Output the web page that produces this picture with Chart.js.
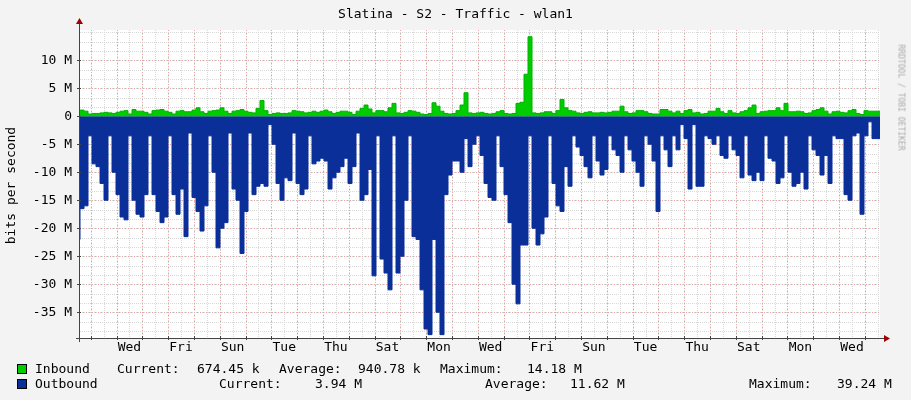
<!DOCTYPE html>
<html><head><meta charset="utf-8">
<script src="https://cdn.jsdelivr.net/npm/chart.js@4/dist/chart.umd.min.js"></script>
<style>
body{margin:0;background:#f3f3f3;font-family:"DejaVu Sans Mono",monospace;}
#wrap{position:relative;width:911px;height:400px;}
canvas{position:absolute;left:0;top:0;}
.t{position:absolute;font-size:13px;color:#000;white-space:pre;line-height:15px;}
.sq{position:absolute;width:8px;height:8px;border:1px solid #000;}
</style></head><body>
<div id="wrap">
<canvas id="c" width="911" height="400"></canvas>
<div class="t" style="left:0;width:911px;text-align:center;top:6px;">Slatina - S2 - Traffic - wlan1</div>
<div class="t" style="left:-48px;top:178px;transform:rotate(-90deg);">bits per second</div>
<div class="t" style="left:848px;top:90px;transform:rotate(90deg);font-size:8px;color:#aaa;">RRDTOOL / TOBI OETIKER</div>
<div class="sq" style="left:17px;top:364px;background:#00cc00"></div>
<div class="sq" style="left:17px;top:379px;background:#0a2f99"></div>
<div class="t" style="left:35px;top:361px">Inbound</div>
<div class="t" style="left:117px;top:361px">Current:</div>
<div class="t" style="left:197px;top:361px">674.45 k</div>
<div class="t" style="left:279px;top:361px">Average:</div>
<div class="t" style="left:358px;top:361px">940.78 k</div>
<div class="t" style="left:440px;top:361px">Maximum:</div>
<div class="t" style="left:527px;top:361px">14.18 M</div>
<div class="t" style="left:35px;top:376px">Outbound</div>
<div class="t" style="left:219px;top:376px">Current:</div>
<div class="t" style="left:315px;top:376px">3.94 M</div>
<div class="t" style="left:485px;top:376px">Average:</div>
<div class="t" style="left:570px;top:376px">11.62 M</div>
<div class="t" style="left:749px;top:376px">Maximum:</div>
<div class="t" style="left:837px;top:376px">39.24 M</div>
</div>
<script>
const totalDays = 31;
const dayLabels = ["Wed","Fri","Sun","Tue","Thu","Sat","Mon","Wed","Fri","Sun","Tue","Thu","Sat","Mon","Wed"];
const firstMidnight = 0.415;
const yTicks = [-35,-30,-25,-20,-15,-10,-5,0,5,10];
const inbound = [1.0,1.1,0.9,0.4,0.5,0.5,0.6,0.7,0.6,0.5,
0.7,0.9,1.0,0.4,1.2,0.9,0.9,0.7,0.4,1.0,
1.1,1.2,0.9,0.7,0.4,0.9,1.0,0.8,0.8,1.1,
1.5,0.8,0.5,0.9,1.0,1.1,1.5,0.9,0.5,0.9,
1.0,1.2,0.9,0.7,0.6,1.4,2.8,1.0,0.3,0.5,
0.6,0.5,0.5,0.6,1.0,0.9,0.8,0.6,0.7,0.9,
0.7,0.9,1.1,0.8,0.5,0.7,0.9,0.9,0.7,0.3,
0.9,1.4,2.0,1.3,0.6,1.0,1.0,0.8,1.5,2.3,
0.6,0.5,0.7,1.0,0.9,0.7,0.4,0.3,0.5,2.4,
1.8,0.9,0.5,0.4,0.5,1.0,2.0,4.2,0.6,0.5,
0.6,0.7,0.5,0.4,0.5,0.8,1.0,0.5,0.4,0.5,
2.3,2.5,7.5,14.2,0.6,0.5,0.6,0.8,0.8,0.5,
1.0,3.0,1.5,1.0,0.9,0.6,0.5,0.7,0.8,0.6,
0.6,0.7,0.6,0.7,0.9,0.9,1.8,0.8,0.5,0.6,
1.0,1.0,0.8,0.5,0.4,0.4,1.2,1.2,0.9,0.6,
0.9,0.5,1.0,1.2,0.6,0.7,0.4,0.5,0.9,0.9,
1.4,0.8,0.5,1.0,0.6,0.5,0.8,1.0,1.5,2.0,
0.5,0.8,0.9,1.0,1.0,1.5,1.0,2.3,0.8,0.8,
0.9,0.8,0.5,0.6,1.0,1.2,1.5,0.9,0.4,0.8,
0.9,0.7,0.6,1.0,1.2,0.5,0.3,1.0,0.9,0.9];
const outbound = [-22,-16.5,-16,-3.5,-8.5,-9,-12,-15,-3.5,-10,
-14,-18,-18.5,-3.5,-15,-17.5,-18,-14,-3.5,-14,
-17,-19,-18,-3.5,-14,-17.5,-13,-21.5,-3,-14.5,
-17,-20.5,-16,-3.5,-10,-23.5,-20,-19,-3,-13,
-15,-24.5,-17,-3,-14,-12.5,-12,-12.5,-1.5,-5,
-12,-15,-11,-11.5,-3,-12,-14,-13,-3.5,-8.5,
-8,-7.5,-8,-13,-11,-10,-9,-7.5,-12,-9,
-3,-15,-14,-9.5,-28.5,-3.5,-25.5,-28,-31,-3.5,
-28,-25,-15,-3.5,-21.5,-22,-31,-38,-39,-22,
-35,-39,-14,-10.5,-8,-8,-10,-4,-9,-5,
-3.5,-7,-12,-14.5,-15,-3.5,-9,-14,-19,-30,
-33.5,-23,-23,-3.5,-20,-23,-21,-18,-3.5,-12,
-16,-17,-9,-12.5,-3.5,-5.5,-7,-9,-11,-3.5,
-8,-10.5,-9.5,-3.5,-6,-7,-10,-3.5,-6,-8,
-10,-12.5,-3.5,-5,-8,-17,-3.5,-6,-9,-3.5,
-6,-1.5,-4,-13,-1.5,-12.5,-12.5,-3.5,-4,-5,
-3.5,-7,-7.5,-3.5,-6,-7,-11,-3.5,-10.5,-11.5,
-10,-11.5,-3.5,-7.5,-8,-12,-11,-3.5,-10,-12.5,
-12,-10,-13,-3.5,-6,-7,-10.5,-7,-12,-3.5,
-4,-4,-14,-15,-3.5,-3,-17.5,-3.5,-1,-4];

const dt = totalDays / inbound.length;
function pts(arr){ const p = arr.map((v,i)=>({x:i*dt,y:v})); p.push({x:totalDays,y:arr[arr.length-1]}); return p; }

const gridPlugin = {
  id:'rrdgrid',
  beforeDatasetsDraw(ch){
    const {ctx, chartArea:a, scales:{x,y}} = ch;
    ctx.save();
    ctx.fillStyle='#fff'; ctx.fillRect(a.left,a.top,a.right-a.left,a.bottom-a.top);
    ctx.lineWidth=1;
    ctx.strokeStyle='#d8d8d8'; ctx.setLineDash([1,1]);
    for(let v=-40; v<=15; v+=5/3){ const py=Math.round(y.getPixelForValue(v))+0.5; if(py<a.top||py>a.bottom) continue; ctx.beginPath(); ctx.moveTo(a.left,py); ctx.lineTo(a.right,py); ctx.stroke(); }
    for(let d=firstMidnight-0.5; d<=totalDays; d+=0.5){ if(d<0) continue; const px=Math.round(x.getPixelForValue(d))+0.5; ctx.beginPath(); ctx.moveTo(px,a.top); ctx.lineTo(px,a.bottom); ctx.stroke(); }
    ctx.strokeStyle='#f0a0a0'; ctx.setLineDash([1,2]);
    yTicks.forEach(v=>{ const py=Math.round(y.getPixelForValue(v))+0.5; ctx.beginPath(); ctx.moveTo(a.left,py); ctx.lineTo(a.right,py); ctx.stroke(); });
    for(let d=firstMidnight; d<=totalDays; d+=1){ const px=Math.round(x.getPixelForValue(d))+0.5; ctx.beginPath(); ctx.moveTo(px,a.top); ctx.lineTo(px,a.bottom); ctx.stroke(); }
    ctx.restore();
  },
  afterDraw(ch){
    const {ctx, chartArea:a, scales:{x,y}} = ch;
    ctx.save(); ctx.strokeStyle='#444'; ctx.lineWidth=1;
    ctx.beginPath(); ctx.moveTo(a.left-0.5,a.bottom+4); ctx.lineTo(a.left-0.5,a.top-8); ctx.stroke();
    ctx.beginPath(); ctx.moveTo(a.left-4,a.bottom+0.5); ctx.lineTo(a.right+6,a.bottom+0.5); ctx.stroke();
    for(let d=firstMidnight; d<=totalDays; d+=1){ const px=Math.round(x.getPixelForValue(d))+0.5; ctx.beginPath(); ctx.moveTo(px,a.bottom-2); ctx.lineTo(px,a.bottom+2); ctx.stroke(); }
    yTicks.forEach(v=>{ const py=Math.round(y.getPixelForValue(v))+0.5; ctx.beginPath(); ctx.moveTo(a.left-3,py); ctx.lineTo(a.left+1,py); ctx.stroke(); });
    ctx.fillStyle='#a00000';
    ctx.beginPath(); ctx.moveTo(a.left-4,a.top-6); ctx.lineTo(a.left+3,a.top-6); ctx.lineTo(a.left-0.5,a.top-12); ctx.fill();
    ctx.beginPath(); ctx.moveTo(a.right+4,a.bottom-3); ctx.lineTo(a.right+4,a.bottom+4); ctx.lineTo(a.right+10,a.bottom+0.5); ctx.fill();
    ctx.restore();
  }
};

new Chart(document.getElementById('c'),{
  type:'line',
  data:{datasets:[
    {label:'Inbound',data:pts(inbound),stepped:'after',fill:'origin',backgroundColor:'#00cc00',borderColor:'#00b000',borderWidth:1,pointRadius:0},
    {label:'Outbound',data:pts(outbound),stepped:'after',fill:'origin',backgroundColor:'#0a2f99',borderColor:'#0a2f99',borderWidth:1,pointRadius:0}
  ]},
  options:{
    responsive:false,animation:false,
    layout:{padding:{top:30,right:31,left:0,bottom:0}},
    plugins:{legend:{display:false},tooltip:{enabled:false}},
    scales:{
      x:{type:'linear',min:0,max:totalDays,grid:{display:false},border:{display:false},
        afterFit(s){s.height=62;},
        afterBuildTicks(s){s.ticks=dayLabels.map((l,i)=>({value:firstMidnight+1.5+2*i}));},
        ticks:{autoSkip:false,maxRotation:0,padding:-6,color:'#000',font:{family:'DejaVu Sans Mono',size:13},
          callback:(v,i)=>dayLabels[i]}},
      y:{type:'linear',min:-39.6,max:15.4,grid:{display:false},border:{display:false},
        afterFit(s){s.width=80;},
        afterBuildTicks(s){s.ticks=yTicks.map(v=>({value:v}));},
        ticks:{padding:0,color:'#000',font:{family:'DejaVu Sans Mono',size:13},
          callback:v=>v===0?'0':v+' M'}}
    }
  },
  plugins:[gridPlugin]
});
</script>
</body></html>
